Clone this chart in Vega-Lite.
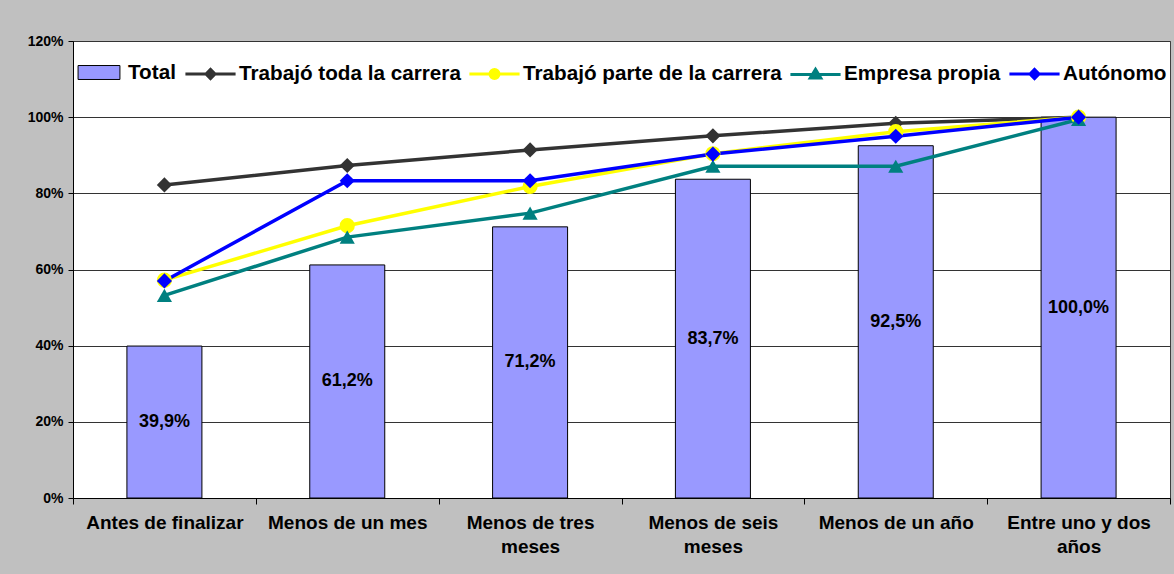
{
  "$schema": "https://vega.github.io/schema/vega-lite/v6.json",
  "autosize": {"type": "none"},
  "padding": {"left": 73, "top": 41, "right": 4, "bottom": 76},
  "width": 1097,
  "height": 457,
  "background": "#C0C0C0",
  "config": {
    "view": {"fill": "white", "stroke": "#404040", "strokeWidth": 1},
    "font": "Liberation Sans",
    "axis": {"labelFont": "Liberation Sans", "labelFontWeight": "bold", "labelColor": "black", "domainColor": "black", "tickColor": "black", "domainWidth": 1, "tickWidth": 1}
  },
  "datasets": {
    "rows": [
      {"cat": "Antes de finalizar", "series": "Total", "value": 39.9},
      {"cat": "Menos de un mes", "series": "Total", "value": 61.2},
      {"cat": "Menos de tres meses", "series": "Total", "value": 71.2},
      {"cat": "Menos de seis meses", "series": "Total", "value": 83.7},
      {"cat": "Menos de un año", "series": "Total", "value": 92.5},
      {"cat": "Entre uno y dos años", "series": "Total", "value": 100.0},
      {"cat": "Antes de finalizar", "series": "Trabajó toda la carrera", "value": 82.2},
      {"cat": "Menos de un mes", "series": "Trabajó toda la carrera", "value": 87.3},
      {"cat": "Menos de tres meses", "series": "Trabajó toda la carrera", "value": 91.4},
      {"cat": "Menos de seis meses", "series": "Trabajó toda la carrera", "value": 95.1},
      {"cat": "Menos de un año", "series": "Trabajó toda la carrera", "value": 98.4},
      {"cat": "Entre uno y dos años", "series": "Trabajó toda la carrera", "value": 100.0},
      {"cat": "Antes de finalizar", "series": "Trabajó parte de la carrera", "value": 57.2},
      {"cat": "Menos de un mes", "series": "Trabajó parte de la carrera", "value": 71.5},
      {"cat": "Menos de tres meses", "series": "Trabajó parte de la carrera", "value": 81.8},
      {"cat": "Menos de seis meses", "series": "Trabajó parte de la carrera", "value": 90.4},
      {"cat": "Menos de un año", "series": "Trabajó parte de la carrera", "value": 96.2},
      {"cat": "Entre uno y dos años", "series": "Trabajó parte de la carrera", "value": 100.0},
      {"cat": "Antes de finalizar", "series": "Empresa propia", "value": 53.2},
      {"cat": "Menos de un mes", "series": "Empresa propia", "value": 68.5},
      {"cat": "Menos de tres meses", "series": "Empresa propia", "value": 74.8},
      {"cat": "Menos de seis meses", "series": "Empresa propia", "value": 87.1},
      {"cat": "Menos de un año", "series": "Empresa propia", "value": 87.1},
      {"cat": "Entre uno y dos años", "series": "Empresa propia", "value": 99.4},
      {"cat": "Antes de finalizar", "series": "Autónomo", "value": 57.0},
      {"cat": "Menos de un mes", "series": "Autónomo", "value": 83.3},
      {"cat": "Menos de tres meses", "series": "Autónomo", "value": 83.3},
      {"cat": "Menos de seis meses", "series": "Autónomo", "value": 90.3},
      {"cat": "Menos de un año", "series": "Autónomo", "value": 95.0},
      {"cat": "Entre uno y dos años", "series": "Autónomo", "value": 100.0}
    ]
  },
  "data": {"name": "rows"},
  "layer": [
    {
      "layer": [
        {
          "transform": [{"filter": "datum.series === 'Total'"}],
          "mark": {"type": "bar", "width": 75, "stroke": "black", "strokeWidth": 1},
          "encoding": {
            "x": {
              "field": "cat", "type": "nominal",
              "scale": {"type": "band", "domain": ["Antes de finalizar", "Menos de un mes", "Menos de tres meses", "Menos de seis meses", "Menos de un año", "Entre uno y dos años"], "paddingInner": 0, "paddingOuter": 0},
              "axis": {
                "title": null, "labelAngle": 0, "labelFontSize": 19, "labelPadding": 9, "labelLineHeight": 24,
                "labelBaseline": "top", "tickSize": 6, "tickBand": "extent", "labelLimit": 250, "grid": false,
                "labelExpr": "datum.value == 'Menos de tres meses' ? ['Menos de tres', 'meses'] : datum.value == 'Menos de seis meses' ? ['Menos de seis', 'meses'] : datum.value == 'Entre uno y dos años' ? ['Entre uno y dos', 'años'] : datum.value"
              }
            },
            "y": {
              "field": "value", "type": "quantitative",
              "scale": {"domain": [0, 120], "nice": false},
              "axis": {"title": null, "values": [0, 20, 40, 60, 80, 100, 120], "labelExpr": "datum.value + '%'", "grid": true, "gridColor": "#333333", "gridWidth": 1, "tickSize": 5, "labelFontSize": 14, "labelPadding": 5}
            },
            "fill": {
              "field": "series", "type": "nominal",
              "scale": {"domain": ["Total"], "range": ["#9999FF"]},
              "legend": {
                "title": null, "orient": "none", "legendX": 3, "legendY": 8.5, "direction": "horizontal",
                "symbolType": "M-0.93,-0.31H0.93V0.31H-0.93Z", "symbolSize": 2025, "symbolStrokeColor": "black", "symbolStrokeWidth": 1,
                "labelFontSize": 20.7, "labelFontWeight": "bold", "labelFont": "Liberation Sans", "labelColor": "black",
                "labelOffset": 6, "padding": 0, "labelLimit": 400
              }
            }
          }
        },
        {
          "transform": [{"filter": "datum.series !== 'Total'"}],
          "mark": {"type": "line", "strokeWidth": 3.5},
          "encoding": {
            "x": {"field": "cat", "type": "nominal", "scale": {"type": "band", "domain": ["Antes de finalizar", "Menos de un mes", "Menos de tres meses", "Menos de seis meses", "Menos de un año", "Entre uno y dos años"], "paddingInner": 0, "paddingOuter": 0}},
            "y": {"field": "value", "type": "quantitative", "scale": {"domain": [0, 120], "nice": false}},
            "color": {
              "field": "series", "type": "nominal",
              "scale": {"domain": ["Trabajó toda la carrera", "Trabajó parte de la carrera", "Empresa propia", "Autónomo"], "range": ["#333333", "#FFFF00", "#008080", "#0000FF"]},
              "legend": {"title": null, "orient": "none", "legendX": 114, "legendY": 9, "direction": "horizontal", "columns": 4, "symbolSize": 1936, "symbolStrokeWidth": 3, "symbolOpacity": 1, "labelFontSize": 20.7, "labelFontWeight": "bold", "labelFont": "Liberation Sans", "labelColor": "black", "labelOffset": 5, "columnPadding": 2, "padding": 0, "labelLimit": 400}
            }
          }
        },
        {
          "transform": [{"filter": "datum.series !== 'Total'"}],
          "mark": {"type": "point", "filled": true, "size": 230, "opacity": 1, "shape": {"expr": "datum.series === 'Trabajó parte de la carrera' ? 'circle' : datum.series === 'Empresa propia' ? 'triangle-up' : 'diamond'"}},
          "encoding": {
            "x": {"field": "cat", "type": "nominal", "scale": {"type": "band", "domain": ["Antes de finalizar", "Menos de un mes", "Menos de tres meses", "Menos de seis meses", "Menos de un año", "Entre uno y dos años"], "paddingInner": 0, "paddingOuter": 0}},
            "y": {"field": "value", "type": "quantitative", "scale": {"domain": [0, 120], "nice": false}},
            "color": {
              "field": "series", "type": "nominal",
              "scale": {"domain": ["Trabajó toda la carrera", "Trabajó parte de la carrera", "Empresa propia", "Autónomo"], "range": ["#333333", "#FFFF00", "#008080", "#0000FF"]},
              "legend": {"title": null, "orient": "none", "legendX": 114, "legendY": 9, "direction": "horizontal", "columns": 4, "symbolSize": 1936, "symbolStrokeWidth": 3, "symbolOpacity": 1, "labelFontSize": 20.7, "labelFontWeight": "bold", "labelFont": "Liberation Sans", "labelColor": "black", "labelOffset": 5, "columnPadding": 2, "padding": 0, "labelLimit": 400}
            }
          }
        },
        {
          "transform": [{"filter": "false"}],
          "mark": {"type": "point", "filled": true, "opacity": 1, "strokeWidth": 3},
          "encoding": {
            "x": {"field": "cat", "type": "nominal", "scale": {"type": "band", "domain": ["Antes de finalizar", "Menos de un mes", "Menos de tres meses", "Menos de seis meses", "Menos de un año", "Entre uno y dos años"], "paddingInner": 0, "paddingOuter": 0}},
            "y": {"field": "value", "type": "quantitative", "scale": {"domain": [0, 120], "nice": false}},
            "color": {
              "field": "series", "type": "nominal",
              "scale": {"domain": ["Trabajó toda la carrera", "Trabajó parte de la carrera", "Empresa propia", "Autónomo"], "range": ["#333333", "#FFFF00", "#008080", "#0000FF"]},
              "legend": {"title": null, "orient": "none", "legendX": 114, "legendY": 9, "direction": "horizontal", "columns": 4, "symbolSize": 1936, "symbolStrokeWidth": 3, "symbolOpacity": 1, "labelFontSize": 20.7, "labelFontWeight": "bold", "labelFont": "Liberation Sans", "labelColor": "black", "labelOffset": 5, "columnPadding": 2, "padding": 0, "labelLimit": 400}
            },
            "stroke": {
              "field": "series", "type": "nominal",
              "scale": {"domain": ["Trabajó toda la carrera", "Trabajó parte de la carrera", "Empresa propia", "Autónomo"], "range": ["#333333", "#FFFF00", "#008080", "#0000FF"]},
              "legend": {"title": null, "orient": "none", "legendX": 114, "legendY": 9, "direction": "horizontal", "columns": 4, "symbolSize": 1936, "symbolStrokeWidth": 3, "symbolOpacity": 1, "labelFontSize": 20.7, "labelFontWeight": "bold", "labelFont": "Liberation Sans", "labelColor": "black", "labelOffset": 5, "columnPadding": 2, "padding": 0, "labelLimit": 400}
            },
            "shape": {
              "field": "series", "type": "nominal",
              "scale": {"domain": ["Trabajó toda la carrera", "Trabajó parte de la carrera", "Empresa propia", "Autónomo"], "range": ["M-1.14,0H1.14M-0.205,0L0,-0.205L0.205,0L0,0.205Z", "M-1.14,0H1.14M0.205,0A0.205,0.205,0,1,1,-0.205,0A0.205,0.205,0,1,1,0.205,0Z", "M-1.14,0H1.14M0,-0.23L0.24,0.17L-0.24,0.17Z", "M-1.14,0H1.14M-0.205,0L0,-0.205L0.205,0L0,0.205Z"]},
              "legend": {"title": null, "orient": "none", "legendX": 114, "legendY": 9, "direction": "horizontal", "columns": 4, "symbolSize": 1936, "symbolStrokeWidth": 3, "symbolOpacity": 1, "labelFontSize": 20.7, "labelFontWeight": "bold", "labelFont": "Liberation Sans", "labelColor": "black", "labelOffset": 5, "columnPadding": 2, "padding": 0, "labelLimit": 400}
            }
          }
        }
      ]
    },
    {
      "transform": [{"filter": "datum.series === 'Total'"}],
      "mark": {"type": "text", "fontSize": 18, "fontWeight": "bold", "font": "Liberation Sans", "baseline": "middle", "color": "black", "text": {"expr": "replace(format(datum.value, '.1f'), '.', ',') + '%'"}},
      "encoding": {
        "x": {"field": "cat", "type": "nominal", "scale": {"type": "band", "domain": ["Antes de finalizar", "Menos de un mes", "Menos de tres meses", "Menos de seis meses", "Menos de un año", "Entre uno y dos años"], "paddingInner": 0, "paddingOuter": 0}},
        "y": {"field": "value", "type": "quantitative", "scale": {"domain": [0, 240], "nice": false}, "axis": null}
      }
    }
  ],
  "resolve": {"scale": {"y": "independent"}}
}
